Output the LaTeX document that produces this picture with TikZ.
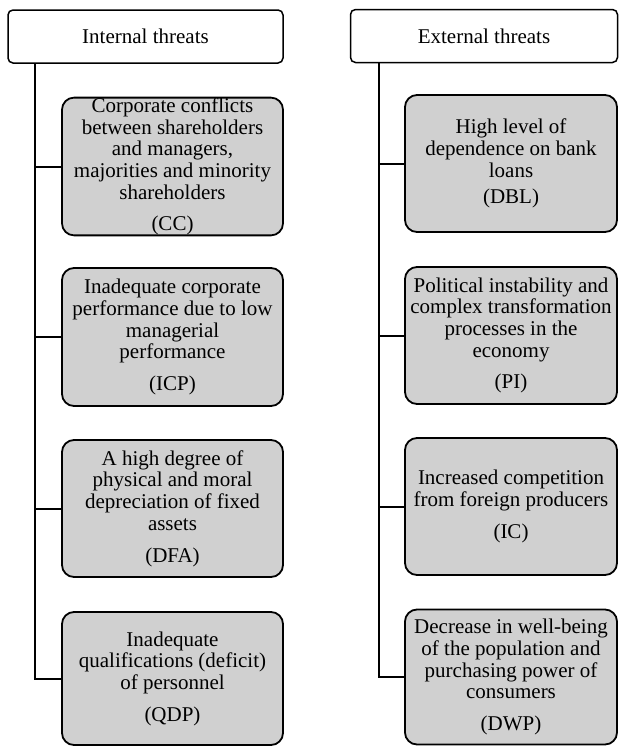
\documentclass[tikz,border=0pt]{standalone}
\usepackage{fontspec}
\setmainfont{Liberation Serif}
\definecolor{boxgray}{RGB}{208,208,208}
\tikzset{
  headbox/.style={draw,line width=1.5pt,rounded corners=5pt,fill=white,
    minimum height=53pt,inner sep=0pt},
  threatbox/.style={draw,line width=1.8pt,rounded corners=12pt,fill=boxgray,
    align=center,inner sep=0pt},
  branch/.style={line width=2pt}
}
\begin{document}
\begin{tikzpicture}[x=1pt,y=-1pt,font=\fontsize{21}{21.7}\selectfont]
    \useasboundingbox (0,0) rectangle (619,747);

    % Headers
    \node[headbox,minimum width=275pt] (intl) at (145.5,36.5) {Internal threats};
    \node[headbox,minimum width=267pt] (extl) at (484,36) {External threats};

    % Internal threats
    \node[threatbox,minimum width=221pt,minimum height=137pt] (cc) at (172.5,166.5)
      {Corporate conflicts\\between shareholders\\and managers,\\majorities and minority\\shareholders\\[10pt](CC)};
    \node[threatbox,minimum width=221pt,minimum height=138pt] (icp) at (172.5,337)
      {Inadequate corporate\\performance due to low\\managerial\\performance\\[10pt](ICP)};
    \node[threatbox,minimum width=221pt,minimum height=137pt] (dfa) at (172.5,508.5)
      {A high degree of\\physical and moral\\depreciation of fixed\\assets\\[10pt](DFA)};
    \node[threatbox,minimum width=221pt,minimum height=133pt] (qdp) at (172.5,678.5)
      {Inadequate\\qualifications (deficit)\\of personnel\\[10pt](QDP)};

    % External threats
    \node[threatbox,minimum width=212pt,minimum height=137pt] (dbl) at (511,163.5)
      {High level of\\dependence on bank\\loans\\[5pt](DBL)};
    \node[threatbox,minimum width=212pt,minimum height=137pt] (pi) at (511,335.5)
      {Political instability and\\complex transformation\\processes in the\\economy\\[10pt](PI)};
    \node[threatbox,minimum width=212pt,minimum height=137pt] (ic) at (511,506.5)
      {Increased competition\\from foreign producers\\[10pt](IC)};
    \node[threatbox,minimum width=212pt,minimum height=135pt] (dwp) at (511,677)
      {Decrease in well-being\\of the population and\\purchasing power of\\consumers\\[10pt](DWP)};

    % Spines
    \coordinate (spineL) at (35,0);
    \coordinate (spineR) at (379,0);
    \draw[branch] (intl.south -| spineL) |- (qdp.west);
    \draw[branch] (extl.south -| spineR) |- (dwp.west);

    % Branches
    \foreach \b in {cc,icp,dfa}
      \draw[branch] (spineL |- \b.west) -- (\b.west);
    \foreach \b in {dbl,pi,ic}
      \draw[branch] (spineR |- \b.west) -- (\b.west);
\end{tikzpicture}
\end{document}
